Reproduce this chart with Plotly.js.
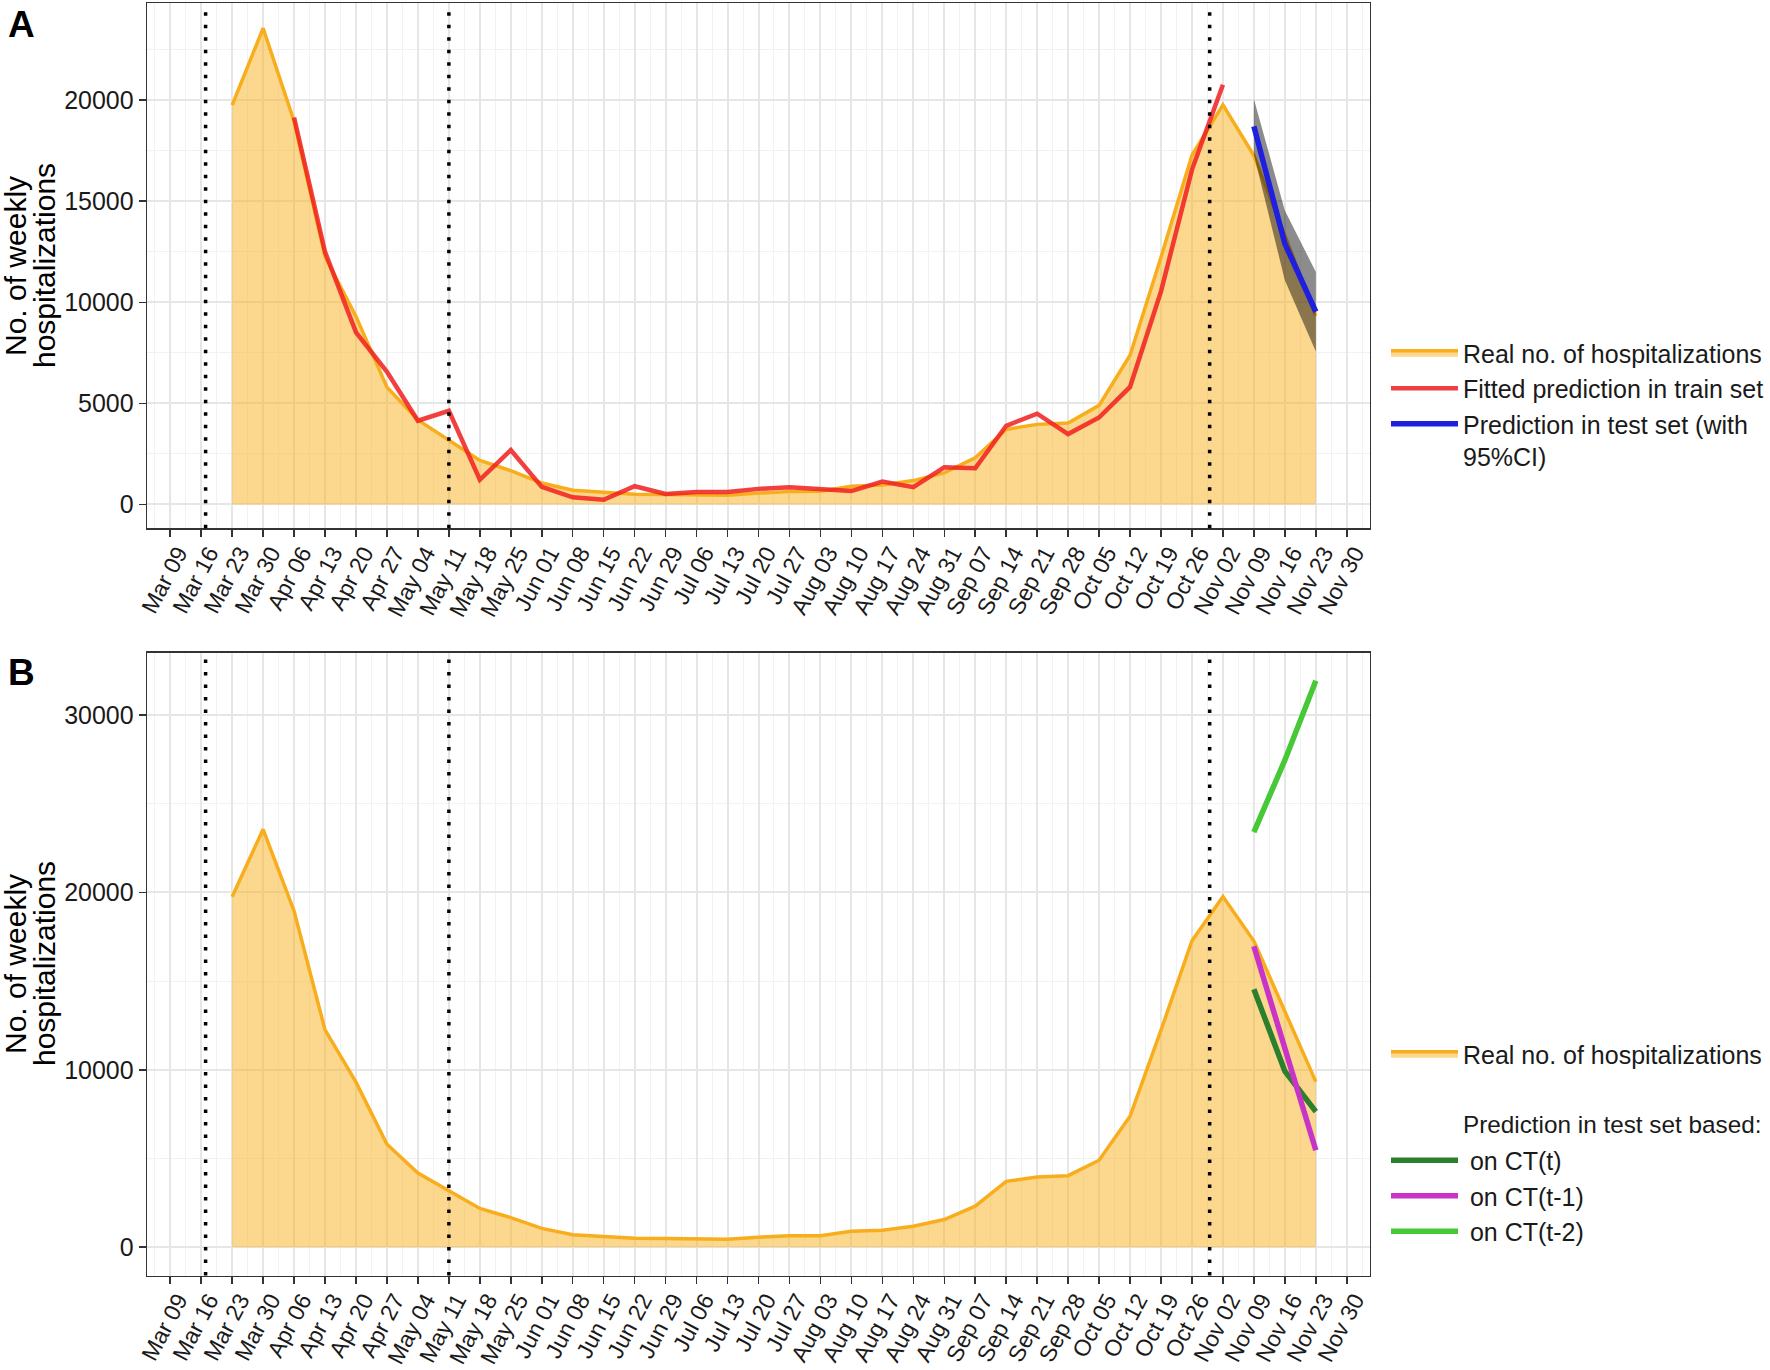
<!DOCTYPE html>
<html><head><meta charset="utf-8">
<script src="https://cdn.plot.ly/plotly-3.0.1.min.js"></script>
<style>html,body{margin:0;padding:0;background:#fff}</style>
</head><body><div id="chart" style="width:1770px;height:1370px"></div>
<script>
// ---- data ----
const tickDates = ['2020-03-09','2020-03-16','2020-03-23','2020-03-30','2020-04-06','2020-04-13','2020-04-20','2020-04-27',
  '2020-05-04','2020-05-11','2020-05-18','2020-05-25','2020-06-01','2020-06-08','2020-06-15','2020-06-22','2020-06-29',
  '2020-07-06','2020-07-13','2020-07-20','2020-07-27','2020-08-03','2020-08-10','2020-08-17','2020-08-24','2020-08-31',
  '2020-09-07','2020-09-14','2020-09-21','2020-09-28','2020-10-05','2020-10-12','2020-10-19','2020-10-26',
  '2020-11-02','2020-11-09','2020-11-16','2020-11-23','2020-11-30'];
const tickLabels = ['Mar 09','Mar 16','Mar 23','Mar 30','Apr 06','Apr 13','Apr 20','Apr 27',
  'May 04','May 11','May 18','May 25','Jun 01','Jun 08','Jun 15','Jun 22','Jun 29',
  'Jul 06','Jul 13','Jul 20','Jul 27','Aug 03','Aug 10','Aug 17','Aug 24','Aug 31',
  'Sep 07','Sep 14','Sep 21','Sep 28','Oct 05','Oct 12','Oct 19','Oct 26',
  'Nov 02','Nov 09','Nov 16','Nov 23','Nov 30'];

const realDates = ['2020-03-23','2020-03-30','2020-04-06','2020-04-13','2020-04-20','2020-04-27',
  '2020-05-04','2020-05-11','2020-05-18','2020-05-25','2020-06-01','2020-06-08','2020-06-15','2020-06-22','2020-06-29',
  '2020-07-06','2020-07-13','2020-07-20','2020-07-27','2020-08-03','2020-08-10','2020-08-17','2020-08-24','2020-08-31',
  '2020-09-07','2020-09-14','2020-09-21','2020-09-28','2020-10-05','2020-10-12','2020-10-19','2020-10-26',
  '2020-11-02','2020-11-09','2020-11-16','2020-11-23'];
const realValues = [19750,23550,18950,12250,9300,5800,
  4180,3180,2180,1670,1060,700,610,510,490,
  450,450,560,640,650,900,960,1180,1560,
  2310,3710,3960,4030,4900,7380,12230,17270,
  19760,17250,13280,9330];

const fittedDates = ['2020-04-06','2020-04-13','2020-04-20','2020-04-27',
  '2020-05-04','2020-05-11','2020-05-18','2020-05-25','2020-06-01','2020-06-08','2020-06-15','2020-06-22','2020-06-29',
  '2020-07-06','2020-07-13','2020-07-20','2020-07-27','2020-08-03','2020-08-10','2020-08-17','2020-08-24','2020-08-31',
  '2020-09-07','2020-09-14','2020-09-21','2020-09-28','2020-10-05','2020-10-12','2020-10-19','2020-10-26','2020-11-02'];
const fittedValues = [19140,12490,8510,6560,
  4140,4630,1220,2690,870,350,230,900,520,
  610,610,770,850,770,660,1130,850,1840,
  1790,3890,4490,3480,4300,5810,10540,16560,20760];

const testDates = ['2020-11-09','2020-11-16','2020-11-23'];
const testPred  = [18700,12900,9530];
const testLower = [17300,11090,7570];
const testUpper = [20050,14540,11500];

const predCTt  = [14540,9920,7640];
const predCTt1 = [16960,11200,5460];
const predCTt2 = [23390,27450,31920];

const eventDates = ['2020-03-17','2020-05-11','2020-10-30'];

const yTicksA = [0,5000,10000,15000,20000];
const yTicksB = [0,10000,20000,30000];

// ---- style ----
const W = 1770, H = 1370;
const FONT = 'Liberation Sans, Arial, sans-serif';
const ORANGE = '#F8AD1D';
const ORANGE_FILL = 'rgba(250,176,30,0.5)';
const xRange = ['2020-03-03 18:00', '2020-12-05 06:00'];
const px = (a,b)=>[a/W, b/W];
const py = (top,bottom)=>[1-bottom/H, 1-top/H];

function xaxisDef(anchor){
  return {
    anchor: anchor, domain: px(147,1370), type:'date', range: xRange,
    tickmode:'array', tickvals: tickDates, ticktext: tickLabels, tickangle: -62,
    tickfont:{size:23, color:'#1a1a1a', family:FONT}, ticklabelshift: 8, ticklabelstandoff: -6,
    ticks:'outside', ticklen:7, tickwidth:1.5, tickcolor:'#333',
    showgrid:true, gridcolor:'#E6E6E6', gridwidth:2,
    minor:{tickmode:'linear', tick0:'2020-03-05 12:00', dtick:7*86400000, showgrid:true, gridcolor:'#F2F2F2', gridwidth:1, ticks:''},
    showline:true, mirror:true, linecolor:'#333', linewidth:1.3, zeroline:false, automargin:false
  };
}
function yaxisDef(anchor, dom, range, tv, minorDt){
  return {
    anchor: anchor, domain: dom, range: range,
    tickmode:'array', tickvals: tv, ticktext: tv.map(String),
    tickfont:{size:25, color:'#1a1a1a', family:FONT},
    ticks:'outside', ticklen:7, tickwidth:1.5, tickcolor:'#333',
    showgrid:true, gridcolor:'#E6E6E6', gridwidth:2,
    minor:{tickmode:'linear', tick0:0, dtick:minorDt, showgrid:true, gridcolor:'#F2F2F2', gridwidth:1, ticks:''},
    showline:true, mirror:true, linecolor:'#333', linewidth:1.3, zeroline:false, automargin:false
  };
}

const traces = [
  // Panel A
  {x: realDates, y: realValues, type:'scatter', mode:'lines', fill:'tozeroy', fillcolor: ORANGE_FILL,
   line:{color:ORANGE, width:3.5}, name:'Real no. of hospitalizations', xaxis:'x', yaxis:'y', legend:'legend'},
  {x: testDates, y: testLower, type:'scatter', mode:'lines', line:{width:0, color:'rgba(0,0,0,0)'},
   showlegend:false, xaxis:'x', yaxis:'y', hoverinfo:'skip'},
  {x: testDates, y: testUpper, type:'scatter', mode:'lines', line:{width:0, color:'rgba(0,0,0,0)'},
   fill:'tonexty', fillcolor:'rgba(0,0,0,0.45)', showlegend:false, xaxis:'x', yaxis:'y', hoverinfo:'skip'},
  {x: fittedDates, y: fittedValues, type:'scatter', mode:'lines', line:{color:'rgba(240,30,30,0.85)', width:4.5},
   name:'Fitted prediction in train set', xaxis:'x', yaxis:'y', legend:'legend'},
  {x: testDates, y: testPred, type:'scatter', mode:'lines', line:{color:'#1F1FE0', width:5.5},
   name:'Prediction in test set (with<br>95%CI)', xaxis:'x', yaxis:'y', legend:'legend'},
  // Panel B
  {x: realDates, y: realValues, type:'scatter', mode:'lines', fill:'tozeroy', fillcolor: ORANGE_FILL,
   line:{color:ORANGE, width:3.5}, name:'Real no. of hospitalizations', xaxis:'x2', yaxis:'y2', legend:'legend2', legendgroup:'g1'},
  {x: testDates, y: predCTt, type:'scatter', mode:'lines', line:{color:'#2C7F2C', width:5.5},
   name:' on CT(t)', xaxis:'x2', yaxis:'y2', legend:'legend2', legendgroup:'g2'},
  {x: testDates, y: predCTt1, type:'scatter', mode:'lines', line:{color:'#C833C8', width:5.5},
   name:' on CT(t-1)', xaxis:'x2', yaxis:'y2', legend:'legend2', legendgroup:'g2'},
  {x: testDates, y: predCTt2, type:'scatter', mode:'lines', line:{color:'#46C837', width:5.5},
   name:' on CT(t-2)', xaxis:'x2', yaxis:'y2', legend:'legend2', legendgroup:'g2'}
];

const shapes = [];
eventDates.forEach(d => {
  [['x','y domain'],['x2','y2 domain']].forEach(([xr,yr]) => {
    shapes.push({type:'line', xref:xr, yref:yr, x0:d, x1:d, y0:0, y1:1,
      line:{color:'#000', width:3.5, dash:'3.5px,9px'}, layer:'above'});
  });
});

const legendBase = {
  font:{size:25, color:'#1a1a1a', family:FONT}, bgcolor:'rgba(0,0,0,0)', borderwidth:0,
  itemwidth:67, xanchor:'left', yanchor:'top', valign:'top', itemclick:false, itemdoubleclick:false
};

const layout = {
  width: W, height: H, paper_bgcolor:'#fff', plot_bgcolor:'#fff',
  margin:{l:0,r:0,t:0,b:0},
  font:{family:FONT, size:25, color:'#1a1a1a'},
  xaxis: xaxisDef('y'),
  yaxis: yaxisDef('x', py(3.4,528.3), [-1180,24780], yTicksA, 2500),
  xaxis2: xaxisDef('y2'),
  yaxis2: yaxisDef('x2', py(652.5,1275.5), [-1596,33516], yTicksB, 5000),
  shapes: shapes,
  legend: Object.assign({}, legendBase, {x:1386/W, y:1-330/H, traceorder:'normal'}),
  legend2: Object.assign({}, legendBase, {x:1386/W, y:1-1031/H, traceorder:'grouped', tracegroupgap:71}),
  annotations: [
    {text:'<b>A</b>', xref:'paper', yref:'paper', x:6/W, y:1-2/H, xanchor:'left', yanchor:'top', showarrow:false,
     font:{size:37, family:FONT, color:'#000'}},
    {text:'<b>B</b>', xref:'paper', yref:'paper', x:6/W, y:1-650/H, xanchor:'left', yanchor:'top', showarrow:false,
     font:{size:37, family:FONT, color:'#000'}},
    {text:'No. of weekly', xref:'paper', yref:'paper', x:15/W, y:1-266/H, xanchor:'center', yanchor:'middle',
     textangle:-90, showarrow:false, font:{size:30, family:FONT, color:'#000'}},
    {text:'hospitalizations', xref:'paper', yref:'paper', x:44/W, y:1-266/H, xanchor:'center', yanchor:'middle',
     textangle:-90, showarrow:false, font:{size:30, family:FONT, color:'#000'}},
    {text:'No. of weekly', xref:'paper', yref:'paper', x:15/W, y:1-964/H, xanchor:'center', yanchor:'middle',
     textangle:-90, showarrow:false, font:{size:30, family:FONT, color:'#000'}},
    {text:'hospitalizations', xref:'paper', yref:'paper', x:44/W, y:1-964/H, xanchor:'center', yanchor:'middle',
     textangle:-90, showarrow:false, font:{size:30, family:FONT, color:'#000'}},
    {text:'Prediction in test set based:', xref:'paper', yref:'paper', x:1461/W, y:1-1124/H, xanchor:'left', yanchor:'middle',
     showarrow:false, font:{size:24.3, family:FONT, color:'#1a1a1a'}}
  ]
};

Plotly.newPlot('chart', traces, layout, {displayModeBar:false, staticPlot:true});
</script></body></html>
